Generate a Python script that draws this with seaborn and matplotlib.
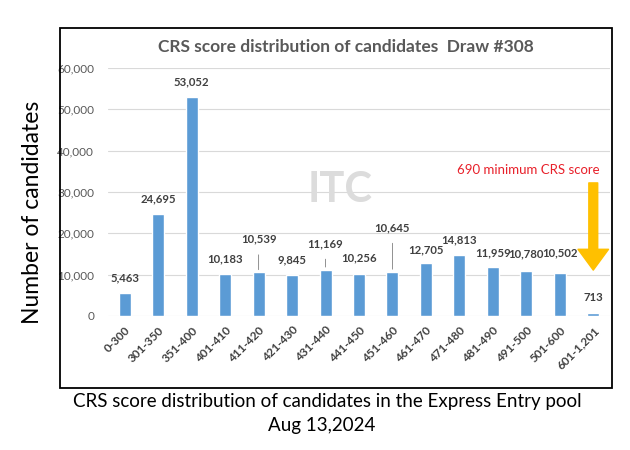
import matplotlib
matplotlib.use('Agg')
import matplotlib.pyplot as plt
from matplotlib.patches import Rectangle
from matplotlib.ticker import FuncFormatter
import seaborn as sns

# data
score_ranges = ['0-300', '301-350', '351-400', '401-410', '411-420', '421-430', '431-440', '441-450',
                '451-460', '461-470', '471-480', '481-490', '491-500', '501-600', '601-1,201']
candidates = [5463, 24695, 53052, 10183, 10539, 9845, 11169, 10256,
              10645, 12705, 14813, 11959, 10780, 10502, 713]
y_ticks = [0, 10000, 20000, 30000, 40000, 50000, 60000]

label_offsets = [11, 11, 11, 11, 24, 11, 19, 11, 32, 10, 11, 10, 13, 14, 11]  # points above bar
leader_lines = [4, 6, 8]  # labels with a thin line down to the bar

sns.set_style('white')
plt.rcParams['font.family'] = ['Lato', 'DejaVu Sans']

fig = plt.figure(figsize=(6.3, 4.5), dpi=100)
ax = fig.add_axes([108 / 630, 1 - 316 / 450, 502 / 630, 248 / 450])

sns.barplot(x=score_ranges, y=candidates, color='#5B9BD5', saturation=1, width=0.36, ax=ax, zorder=3)

ax.set_ylim(0, 60000)
ax.set_yticks(y_ticks)
ax.yaxis.set_major_formatter(FuncFormatter(lambda v, p: f'{v:,.0f}'))
ax.grid(axis='y', color='#D9D9D9', linewidth=0.8, zorder=0)
ax.set_axisbelow(True)
for s in ax.spines.values():
    s.set_visible(False)
ax.tick_params(axis='both', length=0)
ax.tick_params(axis='y', labelsize=8.5, labelcolor='#595959', pad=10)
ax.tick_params(axis='x', pad=6)
ax.set_xlabel('')
ax.set_ylabel('')
plt.setp(ax.get_xticklabels(), rotation=45, ha='right', rotation_mode='anchor',
         fontsize=8.5, fontweight='bold', color='#404040')

# value labels
for i, v in enumerate(candidates):
    props = dict(arrowstyle='-', color='#7F7F7F', lw=0.6, shrinkA=5, shrinkB=2) if i in leader_lines else None
    ax.annotate(f'{v:,}', xy=(i, v), xytext=(0, label_offsets[i]), textcoords='offset points',
                ha='center', va='center', fontsize=8.2, fontweight='bold', color='#404040',
                arrowprops=props, zorder=5)

# minimum score note and arrow
ax.text(14.2, 35300, '690 minimum CRS score', color='#E8202A', fontsize=9.5, ha='right', va='center')
ax.annotate('', xy=(14, 11100), xytext=(14, 32200),
            arrowprops=dict(arrowstyle='simple,head_length=0.75,head_width=1.1,tail_width=0.32',
                            color='#FFC000', mutation_scale=20, shrinkA=0, shrinkB=0))

# faint watermark
fig.text(340 / 630, 1 - 190 / 450, 'ITC', fontsize=30, fontweight='bold', color='#DCDCDC',
         ha='center', va='center', zorder=0)

# chart border, title and captions
fig.patches.append(Rectangle((60 / 630, 1 - 388 / 450), 552 / 630, 360 / 450, transform=fig.transFigure,
                             fill=False, edgecolor='black', linewidth=1.3))
fig.text(346 / 630, 1 - 47 / 450, 'CRS score distribution of candidates  Draw #308',
         fontsize=12.5, fontweight='bold', color='#595959', ha='center', va='center')
fig.text(33 / 630, 1 - 212 / 450, 'Number of candidates', rotation=90, fontsize=16.5,
         color='black', ha='center', va='center')
fig.text(327 / 630, 1 - 401 / 450, 'CRS score distribution of candidates in the Express Entry pool',
         fontsize=13.5, color='black', ha='center', va='center')
fig.text(322 / 630, 1 - 425 / 450, 'Aug 13,2024', fontsize=13.5, color='black', ha='center', va='center')

fig.savefig('out.png', dpi=100)
